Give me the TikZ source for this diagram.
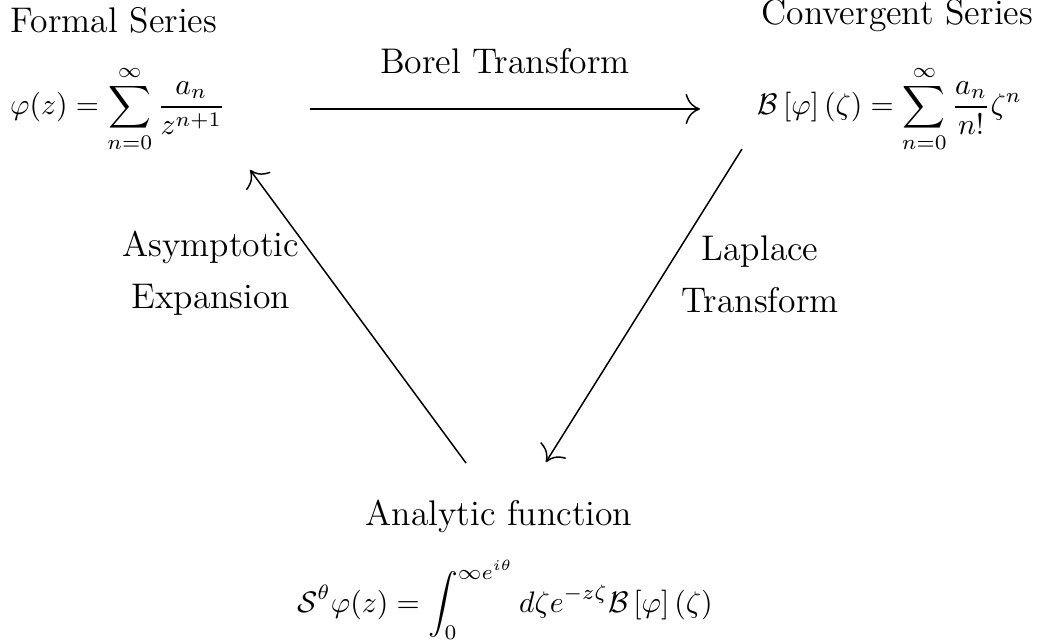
\documentclass[tikz,border=0pt]{standalone}
\usepackage{amsmath}
\usetikzlibrary{arrows.meta}
\begin{document}
\begin{tikzpicture}[x=1pt,y=1pt,
  lbl/.style={inner sep=0pt,outer sep=0pt,font=\large},
  mth/.style={inner sep=0pt,outer sep=0pt},
  conn/.style={-{To[scale=1.8]},line width=0.5pt}]
\useasboundingbox (0,0) rectangle (351.5,-216.8);
\node[lbl,anchor=base west] (fs) at (3.7,-11.1) {Formal Series};
\node[lbl,anchor=base east] (cs) at (347.8,-8.4) {Convergent Series};
\node[mth,anchor=base west] (phi) at (3.4,-38.5) {$\displaystyle \varphi(z)=\sum_{n=0}^{\infty}\frac{a_n}{z^{n+1}}$};
\node[mth,anchor=base east] (bor) at (344.1,-38.5) {$\displaystyle \mathcal{B}\left[\varphi\right]\left(\zeta\right)=\sum_{n=0}^{\infty}\frac{a_n}{n!}\zeta^n$};
\node[lbl,anchor=base] (bt) at (170.0,-24.6) {Borel Transform};
\node[lbl,anchor=base,align=center] (ae) at (71.0,-103.7) {Asymptotic\\[3.5pt]Expansion};
\node[lbl,anchor=base,align=center] (lt) at (255.9,-105.1) {Laplace\\[3.5pt]Transform};
\node[lbl,anchor=base] (af) at (168.0,-176.8) {Analytic function};
\node[mth,anchor=base] (sf) at (170.0,-206.1) {$\displaystyle \mathcal{S}^{\theta}\varphi(z)=\int_0^{\infty e^{i\theta}}d\zeta e^{-z\zeta}\mathcal{B}\left[\varphi\right]\left(\zeta\right)$};
\coordinate (a1s) at (104.4,-36.7);
\coordinate (a1e) at (235.7,-36.7);
\coordinate (a2s) at (249.8,-50.2);
\coordinate (a2e) at (183.8,-155.6);
\coordinate (a3s) at (156.9,-155.9);
\coordinate (a3e) at (84.2,-57.2);
\draw[conn] (a1s) -- (a1e);
\draw[conn] (a2s) -- (a2e);
\draw[conn] (a3s) -- (a3e);
\end{tikzpicture}
\end{document}
